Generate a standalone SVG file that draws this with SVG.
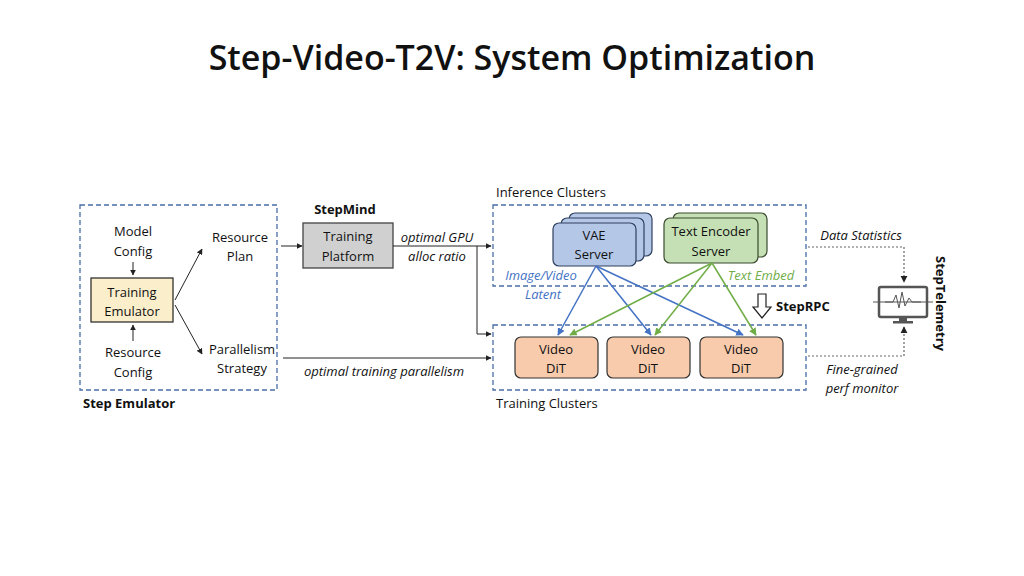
<svg xmlns="http://www.w3.org/2000/svg" width="1024" height="576" viewBox="0 0 1024 576">
<style>
text{font-family:"Open Sans","Liberation Sans",sans-serif;fill:#111;font-size:13px}
.c{text-anchor:middle}
.i{font-style:italic}
.b{font-weight:bold}
.dash{fill:none;stroke:#4a6da7;stroke-width:1.3;stroke-dasharray:5,3}
.ln{fill:none;stroke:#222;stroke-width:1}
.dot{fill:none;stroke:#666;stroke-width:1.2;stroke-dasharray:2,2}
.blue{stroke:#4472c4;stroke-width:1.5;fill:none}
.green{stroke:#70ad47;stroke-width:1.5;fill:none}
.vae{fill:#b4c7e7;stroke:#2f3f5f;stroke-width:1.2}
.te{fill:#c5e0b4;stroke:#3a4a2f;stroke-width:1.2}
.dit{fill:#f8cbad;stroke:#333;stroke-width:1.2}
</style>
<defs>
<marker id="ak" viewBox="0 0 10 10" refX="9" refY="5" markerWidth="6" markerHeight="6" orient="auto"><path d="M0,0L10,5L0,10z" fill="#222"/></marker>
<marker id="ab" viewBox="0 0 10 10" refX="9" refY="5" markerWidth="5" markerHeight="5" orient="auto"><path d="M0,0L10,5L0,10z" fill="#4472c4"/></marker>
<marker id="ag" viewBox="0 0 10 10" refX="9" refY="5" markerWidth="5" markerHeight="5" orient="auto"><path d="M0,0L10,5L0,10z" fill="#70ad47"/></marker>
</defs>
<rect width="1024" height="576" fill="#fff"/>
<text x="512" y="70" class="c" style="font-size:34px;font-family:'Open Sans','Noto Sans',sans-serif;font-weight:600">Step-Video-T2V: System Optimization</text>

<g id="step-emulator">
<rect x="80" y="205" width="197" height="185" class="dash"/>
<text x="83" y="408" class="b">Step Emulator</text>
<text x="133" y="236" class="c">Model</text><text x="133" y="256" class="c">Config</text>
<text x="133" y="357" class="c">Resource</text><text x="133" y="377" class="c">Config</text>
<text x="240" y="242" class="c">Resource</text><text x="240" y="261" class="c">Plan</text>
<text x="242" y="354" class="c">Parallelism</text><text x="242" y="373" class="c">Strategy</text>
</g>
<g id="training-emulator">
<rect x="91" y="278" width="82" height="44" fill="#fbeecb" stroke="#222" stroke-width="1.2"/>
<text x="132" y="297" class="c">Training</text><text x="132" y="316" class="c">Emulator</text>
</g>
<g id="training-platform">
<text x="345" y="214" class="c b">StepMind</text>
<rect x="303" y="223" width="90" height="45" fill="#d0d0d0" stroke="#444" stroke-width="1.3"/>
<text x="348" y="241" class="c">Training</text><text x="348" y="261" class="c">Platform</text>
</g>
<g id="inference-clusters">
<rect x="493" y="205" width="313" height="81" class="dash"/>
<text x="496" y="197">Inference Clusters</text>
</g>
<g id="vae-server">
<rect x="569" y="213" width="83" height="43" rx="6" class="vae"/>
<rect x="561" y="218" width="83" height="43" rx="6" class="vae"/>
<rect x="553" y="223" width="83" height="43" rx="6" class="vae"/>
<text x="594" y="240" class="c">VAE</text><text x="594" y="259" class="c">Server</text>
</g>
<g id="text-encoder-server">
<rect x="673" y="213" width="94" height="44" rx="6" class="te"/>
<rect x="664" y="218" width="94" height="45" rx="6" class="te"/>
<text x="711" y="236" class="c">Text Encoder</text><text x="711" y="256" class="c">Server</text>
</g>
<g id="training-clusters">
<rect x="493" y="325" width="313" height="65" class="dash"/>
<text x="496" y="408">Training Clusters</text>
</g>
<g id="dit1"><rect x="515" y="337" width="83" height="41" rx="6" class="dit"/><text x="556" y="354" class="c">Video</text><text x="556" y="373" class="c">DiT</text></g>
<g id="dit2"><rect x="607" y="337" width="83" height="41" rx="6" class="dit"/><text x="648" y="354" class="c">Video</text><text x="648" y="373" class="c">DiT</text></g>
<g id="dit3"><rect x="700" y="337" width="83" height="41" rx="6" class="dit"/><text x="741" y="354" class="c">Video</text><text x="741" y="373" class="c">DiT</text></g>
<g id="step-telemetry">
<rect x="879" y="287" width="48" height="30" rx="2" fill="#fff" stroke="#555" stroke-width="2.5"/>
<line x1="873" y1="302" x2="933" y2="302" stroke="#555" stroke-width="1"/>
<path d="M885,302L893,302L896,295L899,308L902,292L905,306L909,298L912,302L921,302" fill="none" stroke="#555" stroke-width="1"/>
<rect x="899" y="317" width="8" height="4" fill="#555"/>
<rect x="893" y="321" width="20" height="2.5" fill="#555"/>
<text transform="translate(936,256) rotate(90)" class="b">StepTelemetry</text>
</g>
<g id="connectors">
<line x1="133" y1="262" x2="133" y2="275" class="ln" marker-end="url(#ak)"/>
<line x1="133" y1="341" x2="133" y2="325" class="ln" marker-end="url(#ak)"/>
<line x1="175" y1="300" x2="202" y2="249" class="ln" marker-end="url(#ak)"/>
<line x1="175" y1="305" x2="202" y2="354" class="ln" marker-end="url(#ak)"/>
<line x1="281" y1="246" x2="302" y2="246" class="ln" marker-end="url(#ak)"/>
<line x1="393" y1="246" x2="491" y2="246" class="ln" marker-end="url(#ak)"/>
<path d="M477,246V334H491" class="ln" marker-end="url(#ak)"/>
<line x1="283" y1="358" x2="491" y2="358" class="ln" marker-end="url(#ak)"/>
<text x="437" y="242" class="c i">optimal GPU</text><text x="437" y="261" class="c i">alloc ratio</text>
<text x="384" y="376" class="c i">optimal training parallelism</text>
<line x1="596" y1="266" x2="558" y2="335" class="blue" marker-end="url(#ab)"/>
<line x1="596" y1="266" x2="651" y2="335" class="blue" marker-end="url(#ab)"/>
<line x1="596" y1="266" x2="743" y2="335" class="blue" marker-end="url(#ab)"/>
<line x1="712" y1="263" x2="570" y2="335" class="green" marker-end="url(#ag)"/>
<line x1="712" y1="263" x2="655" y2="335" class="green" marker-end="url(#ag)"/>
<line x1="712" y1="263" x2="756" y2="335" class="green" marker-end="url(#ag)"/>
<text x="541" y="280" class="c i" style="fill:#4472c4">Image/Video</text>
<text x="543" y="299" class="c i" style="fill:#4472c4">Latent</text>
<text x="761" y="280" class="c i" style="fill:#70ad47">Text Embed</text>
<path d="M758,294H766V307H771L762,318L753,307H758Z" fill="#fff" stroke="#222" stroke-width="1.2"/>
<text x="776" y="311" class="b">StepRPC</text>
<path d="M808,247H904V282" class="dot" marker-end="url(#ak)"/>
<path d="M808,356H904V327" class="dot" marker-end="url(#ak)"/>
<text x="861" y="240" class="c i">Data Statistics</text>
<text x="862" y="374" class="c i">Fine-grained</text><text x="862" y="393" class="c i">perf monitor</text>
</g>
</svg>
